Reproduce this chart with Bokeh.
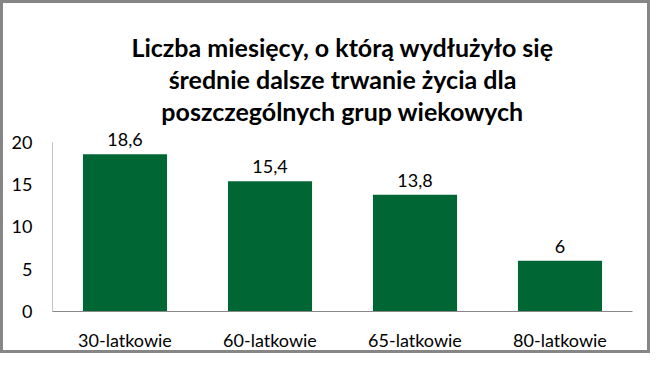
from bokeh.plotting import figure
from bokeh.models import ColumnDataSource, Title, LabelSet, Range1d, FixedTicker
from bokeh.core.properties import value
from bokeh.embed import file_html
from bokeh.resources import INLINE

categories = ["30-latkowie", "60-latkowie", "65-latkowie", "80-latkowie"]
values = [18.6, 15.4, 13.8, 6]
value_labels = ["18,6", "15,4", "13,8", "6"]
y_ticks = [0, 5, 10, 15, 20]
y_max = 20
title_lines = ["Liczba miesięcy, o którą wydłużyło się",
               "średnie dalsze trwanie życia dla",
               "poszczególnych grup wiekowych"]

FONT = "Lato"
xs = list(range(len(categories)))
src = ColumnDataSource(dict(x=xs, cat=categories, val=values, lab=value_labels))

p = figure(width=650, height=353, x_range=Range1d(-0.5, len(categories) - 0.5),
           y_range=Range1d(0, y_max * 1.1), output_backend="svg", toolbar_location=None,
           min_border_left=49, min_border_right=21, min_border_top=122, min_border_bottom=45)
p.outline_line_color = None
p.border_fill_color = "white"
p.background_fill_color = "white"
p.styles = {"border": "3px solid #868686"}

p.vbar(x="x", top="val", width=0.58, source=src, fill_color="#006633", line_color=None)

# y axis line only up to the last tick, as in the reference
p.segment(x0=[-0.5], y0=[0], x1=[-0.5], y1=[y_max], line_color="#888888", line_width=1)

p.add_layout(LabelSet(x="x", y="val", text="lab", source=src, text_align="center",
                      text_baseline="bottom", y_offset=8, text_font=value(FONT),
                      text_font_size="18px", text_color="#000000"))

for line in reversed(title_lines):
    p.add_layout(Title(text=line, align="center", text_font=FONT,
                       text_font_size="25px", text_font_style="bold", text_color="#000000",
                       standoff=0, offset=0, text_line_height=0.95), "above")

p.xgrid.visible = False
p.ygrid.visible = False
for ax in (p.xaxis, p.yaxis):
    ax.major_tick_line_color = None
    ax.minor_tick_line_color = None
    ax.major_label_text_font = FONT
    ax.major_label_text_font_size = "18px"
    ax.major_label_text_color = "#000000"
p.xaxis.axis_line_color = "#888888"
p.yaxis.axis_line_color = None
p.yaxis.ticker = FixedTicker(ticks=y_ticks)
p.xaxis.ticker = FixedTicker(ticks=xs)
p.xaxis.major_label_overrides = {i: c for i, c in zip(xs, categories)}
p.yaxis.major_label_standoff = 14
p.xaxis.major_label_standoff = 11

open("out.html", "w").write(file_html(p, INLINE))
